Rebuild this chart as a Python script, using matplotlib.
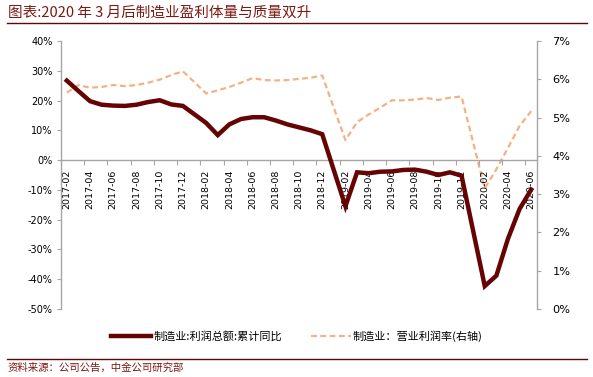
import numpy as np
import pandas as pd
import matplotlib
matplotlib.use("Agg")
import matplotlib.pyplot as plt
from matplotlib.lines import Line2D
from matplotlib.ticker import FixedLocator, FuncFormatter

# ─────────────────────────────────────────────
# Data (January is not published)
# ─────────────────────────────────────────────
months = (
    [f"2017-{m:02d}" for m in range(2, 13)]
    + [f"2018-{m:02d}" for m in range(2, 13)]
    + [f"2019-{m:02d}" for m in range(2, 13)]
    + [f"2020-{m:02d}" for m in range(2, 7)]
)
profit_yoy = [
    26.7, 23.2, 19.8, 18.6, 18.3, 18.2, 18.6, 19.5, 20.1, 18.7, 18.2,
    12.5, 8.4, 12.0, 13.8, 14.4, 14.4, 13.3, 12.0, 11.0, 10.0, 8.7,
    -15.5, -4.1, -4.4, -3.9, -3.8, -3.3, -3.2, -3.9, -5.0, -4.1, -5.2,
    -42.3, -38.8, -26.4, -16.4, -9.9,
]
op_margin = [
    5.65, 5.85, 5.78, 5.80, 5.85, 5.82, 5.85, 5.91, 5.99, 6.11, 6.21,
    5.63, 5.71, 5.80, 5.91, 6.03, 5.98, 5.97, 5.98, 6.01, 6.04, 6.10,
    4.41, 4.88, 5.08, 5.26, 5.45, 5.45, 5.47, 5.51, 5.46, 5.52, 5.55,
    3.15, 3.65, 4.21, 4.78, 5.17,
]
tick_labels = [
    "2017-02", "2017-04", "2017-06", "2017-08", "2017-10", "2017-12",
    "2018-02", "2018-04", "2018-06", "2018-08", "2018-10", "2018-12",
    "2019-02", "2019-04", "2019-06", "2019-08", "2019-10", "2019-12",
    "2020-02", "2020-04", "2020-06",
]
left_ticks = [40, 30, 20, 10, 0, -10, -20, -30, -40, -50]
right_ticks = [0, 1, 2, 3, 4, 5, 6, 7]

series1_name = "制造业:利润总额:累计同比"
series2_name = "制造业：营业利润率(右轴)"
title_text = "图表:2020 年 3 月后制造业盈利体量与质量双升"
source_text = "资料来源：公司公告，中金公司研究部"

# month index on a monthly date axis, starting at 2017-02
def month_idx(s):
    d = pd.Timestamp(s + "-01")
    return (d.year - 2017) * 12 + d.month - 2

x = np.array([month_idx(m) for m in months])
xt = np.array([month_idx(m) for m in tick_labels])

CJK = ["Noto Sans CJK SC", "DejaVu Sans"]
DARK = "#660404"
PEACH = "#F4B183"
GRID = "#A6A6A6"
TITLE_C = "#7A1A14"

# ═════════════════════════════════════════════
# Figure
# ═════════════════════════════════════════════
fig = plt.figure(figsize=(5.93, 3.77), dpi=100)
ax = fig.add_axes([61 / 593, 1 - 309 / 377, 476 / 593, 268 / 377])
ax2 = ax.twinx()

ax.plot(x, profit_yoy, color=DARK, lw=3.2, solid_joinstyle="miter", zorder=3)
ax2.plot(x, op_margin, color=PEACH, lw=1.6, dashes=(2.6, 1.6))

# dark line on top of the twin axis
ax.set_zorder(ax2.get_zorder() + 1)
ax.patch.set_visible(False)

ax.set_xlim(-0.5, x.max() + 0.5)
ax.set_ylim(-50, 40)
ax2.set_ylim(0, 7)

# left axis
ax.set_yticks(left_ticks)
ax.yaxis.set_major_formatter(FuncFormatter(lambda v, p: f"{int(v)}%"))
ax.tick_params(axis="y", labelsize=7, length=3, width=0.8, color=GRID, pad=3)

# right axis
ax2.set_yticks(right_ticks)
ax2.yaxis.set_major_formatter(FuncFormatter(lambda v, p: f"{int(v)}%"))
ax2.tick_params(axis="y", labelsize=8.2, length=3, width=0.8, color=GRID, pad=8)

# x axis crossing at 0 on the left scale, labels centred on months,
# tick marks between categories
ax.spines["bottom"].set_position(("data", 0))
ax.xaxis.set_major_locator(FixedLocator(xt))
ax.set_xticklabels(tick_labels, rotation=90, fontsize=6.8, va="top", ha="center")
ax.xaxis.set_minor_locator(FixedLocator(xt - 0.5))
ax.tick_params(axis="x", which="major", length=0, pad=7)
ax.tick_params(axis="x", which="minor", length=3.5, width=0.8, color=GRID, direction="out")

for a in (ax, ax2):
    a.spines["top"].set_visible(False)
    for s in ("left", "right", "bottom"):
        a.spines[s].set_color(GRID)
        a.spines[s].set_linewidth(1.0)
ax2.spines["bottom"].set_visible(False)
ax.spines["right"].set_visible(False)
ax2.spines["left"].set_visible(False)

# legend
handles = [
    Line2D([], [], color=DARK, lw=3.2),
    Line2D([], [], color=PEACH, lw=1.6, dashes=(2.6, 1.6)),
]
fig.legend(
    handles, [series1_name, series2_name],
    loc="center", bbox_to_anchor=(297 / 593, 1 - 336 / 377),
    ncol=2, frameon=False, handlelength=3.6, handletextpad=0.2,
    columnspacing=2.6, prop={"family": CJK, "size": 8},
)

# title and source
fig.text(8 / 593, 1 - 13 / 377, title_text, color=TITLE_C, fontsize=10.5,
         family=CJK, ha="left", va="center")
fig.add_artist(Line2D([7 / 593, 587 / 593], [1 - 23 / 377] * 2,
                      color="#5A0A0A", lw=1.0))
fig.add_artist(Line2D([7 / 593, 587 / 593], [1 - 359 / 377] * 2,
                      color="#5A0A0A", lw=1.0))
fig.text(8 / 593, 1 - 368 / 377, source_text, color=TITLE_C, fontsize=7.5,
         family=CJK, ha="left", va="center")

plt.savefig("out.png", dpi=100)
